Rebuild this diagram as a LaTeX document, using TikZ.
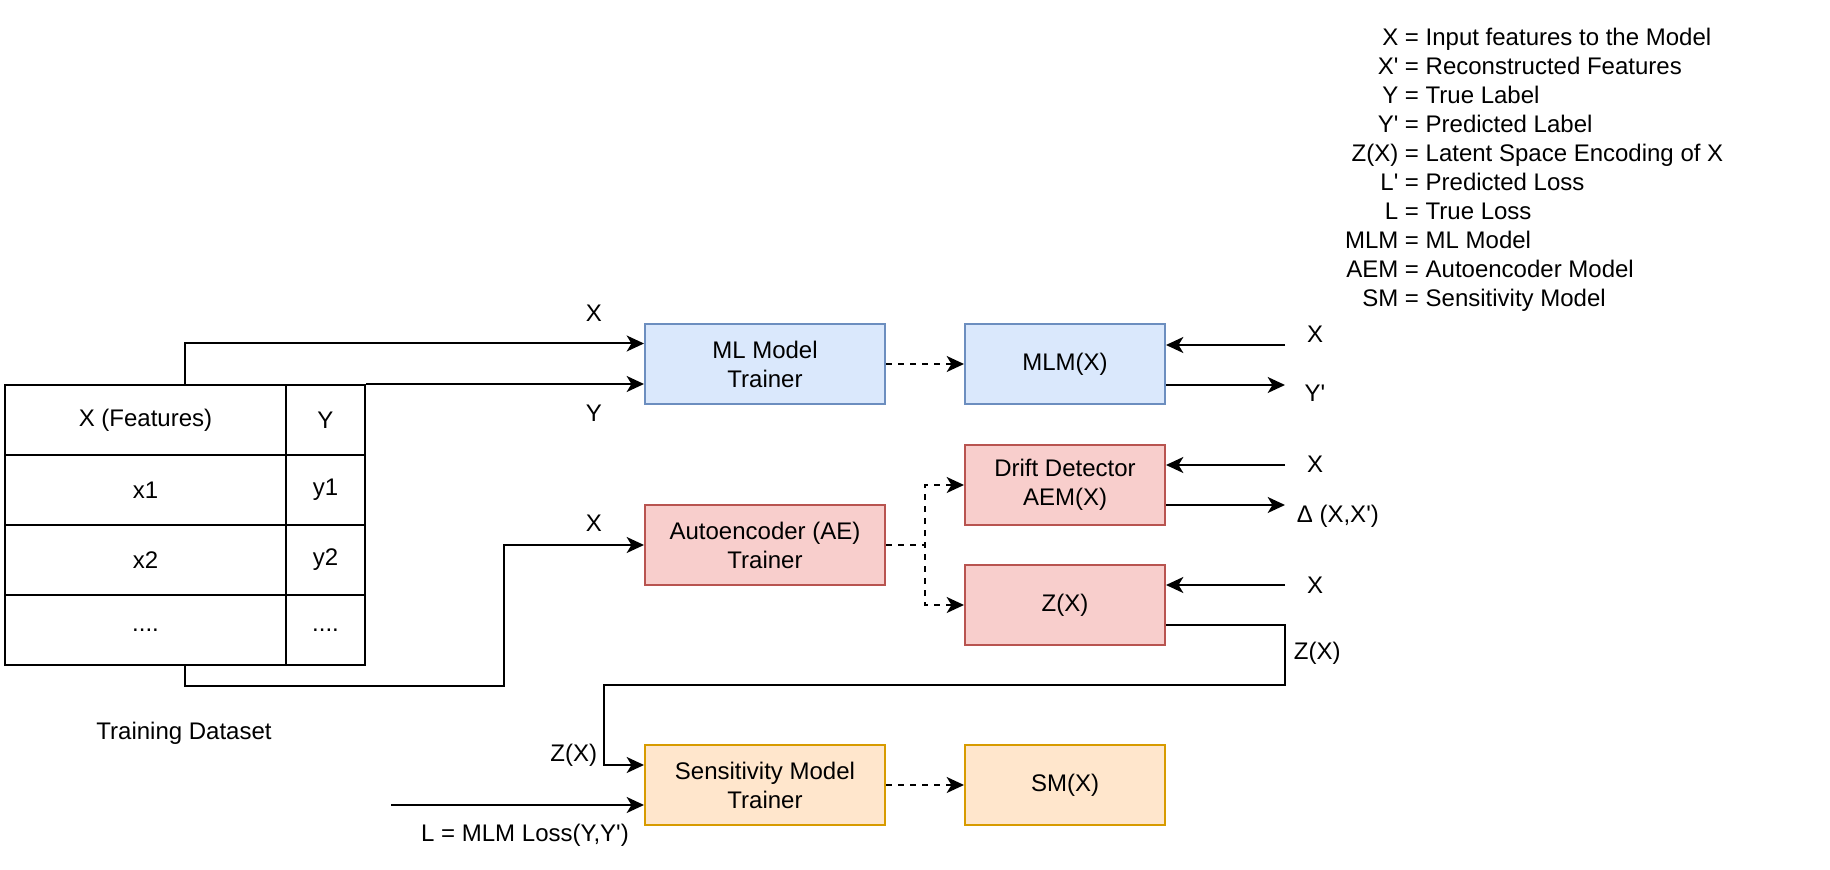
\documentclass[tikz,border=0pt]{standalone}
\usepackage{fontspec}
\setmainfont{Liberation Sans}[Ligatures=TeXOff]
\usetikzlibrary{arrows.meta,calc}
\definecolor{SkyFill}{HTML}{DAE8FC}
\definecolor{SkyLine}{HTML}{6C8EBF}
\definecolor{RoseFill}{HTML}{F8CECC}
\definecolor{RoseLine}{HTML}{B85450}
\definecolor{SandFill}{HTML}{FFE6CC}
\definecolor{SandLine}{HTML}{D79B00}
\tikzset{
    trainer/.style = {draw, rectangle, align=center,
        minimum width=90pt,
        minimum height=30pt},
    model/.style = {draw, rectangle, align=center,
        minimum width=75pt,
        minimum height=30pt},
    skybox/.style = {fill=SkyFill, draw=SkyLine},
    rosebox/.style = {fill=RoseFill, draw=RoseLine},
    sandbox/.style = {fill=SandFill, draw=SandLine},
    cell/.style = {draw, rectangle, inner sep=0pt, minimum height=26.25pt},
    arr/.style = {draw, -{Stealth[length=6.5pt,width=6pt,inset=1.8pt]}},
    dasharr/.style = {arr, dash pattern=on 2.25pt off 2.25pt}
}

\begin{document}
\begin{tikzpicture}[x=0.375pt, y=-0.375pt, line width=0.75pt,
    font=\fontsize{9}{10.9}\selectfont]
        \useasboundingbox (0,0) rectangle (1830,870);
        % training dataset table
        \node [draw, minimum width=135pt, minimum height=105pt] (dataset) at (185,525) {};
        \node [cell, minimum width=105.375pt] (feathead) at (145.5,420) {X (Features)};
        \node [cell, minimum width=29.625pt] (labhead) at (325.5,420) {Y};
        \node [cell, minimum width=105.375pt] (featone) at (145.5,490) {x1};
        \node [cell, minimum width=29.625pt] (labone) at (325.5,490) {y1};
        \node [cell, minimum width=105.375pt] (feattwo) at (145.5,560) {x2};
        \node [cell, minimum width=29.625pt] (labtwo) at (325.5,560) {y2};
        \node [cell, minimum width=105.375pt] (featdots) at (145.5,630) {....};
        \node [cell, minimum width=29.625pt] (labdots) at (325.5,630) {....};
        \node (dslabel) at (184,733) {Training Dataset};
        % boxes
        \node [trainer, skybox] (mltrainer) at (765,364) {ML Model\\Trainer};
        \node [model, skybox] (mlm) at (1065,364) {MLM(X)};
        \node [trainer, rosebox] (aetrainer) at (765,545) {Autoencoder (AE)\\Trainer};
        \node [model, rosebox] (drift) at (1065,485) {Drift Detector\\AEM(X)};
        \node [model, rosebox] (zx) at (1065,605) {Z(X)};
        \node [trainer, sandbox] (smtrainer) at (765,785) {Sensitivity Model\\Trainer};
        \node [model, sandbox] (smx) at (1065,785) {SM(X)};
        % free ends
        \coordinate (mlmin) at (1285,345);
        \coordinate (mlmout) at (1285,385);
        \coordinate (driftin) at (1285,465);
        \coordinate (driftout) at (1285,505);
        \coordinate (zin) at (1285,585);
        \coordinate (zout) at (1285,625);
        \coordinate (lossin) at (391,805);
        % connectors
        \draw [arr] (dataset.north) |- ($(mltrainer.north west)!0.25!(mltrainer.south west)$);
        \draw [arr] (dataset.north east) -- (dataset.north east -| mltrainer.west);
        \draw [arr] (dataset.south) -- ++(0,20) -| (504,545) -- (aetrainer.west);
        \draw [dasharr] (mltrainer) -- (mlm);
        \draw [dasharr] (aetrainer.east) -- ++(39,0) |- (drift.west);
        \draw [dasharr] (aetrainer.east) -- ++(39,0) |- (zx.west);
        \draw [dasharr] (smtrainer) -- (smx);
        \draw [arr] (mlmin) -- (mlmin -| mlm.east);
        \draw [arr] (mlmout -| mlm.east) -- (mlmout);
        \draw [arr] (driftin) -- (driftin -| drift.east);
        \draw [arr] (driftout -| drift.east) -- (driftout);
        \draw [arr] (zin) -- (zin -| zx.east);
        \draw [arr] (zout -| zx.east) -- (zout) -- (1285,685) -| (604,765) -- (smtrainer.west |- 604,765);
        \draw [arr] (lossin) -- (lossin -| smtrainer.west);
        % labels
        \node (xml) at (594,313) {X};
        \node (yml) at (594,413) {Y};
        \node (xae) at (594,523) {X};
        \node [anchor=east] (zsm) at (607,755) {Z(X)};
        \node (losslbl) at (525,835) {L = MLM Loss(Y,Y')};
        \node (xmlm) at (1315,334) {X};
        \node (ypred) at (1315,393) {Y'};
        \node (xdrift) at (1315,464) {X};
        \node [anchor=west] (delta) at (1287,516) {Δ (X,X')};
        \node (xz) at (1315,585) {X};
        \node [anchor=west] (zlbl) at (1284,653) {Z(X)};
        % legend
        \node [anchor=north west, inner sep=0pt] (legend) at (1344,24) {%
            \begin{tabular}{@{}r@{ = }l@{}}
            X & Input features to the Model\\
            X' & Reconstructed Features\\
            Y & True Label\\
            Y' & Predicted Label\\
            Z(X) & Latent Space Encoding of X\\
            L' & Predicted Loss\\
            L & True Loss\\
            MLM & ML Model\\
            AEM & Autoencoder Model\\
            SM & Sensitivity Model
            \end{tabular}};
    \end{tikzpicture}
\end{document}
